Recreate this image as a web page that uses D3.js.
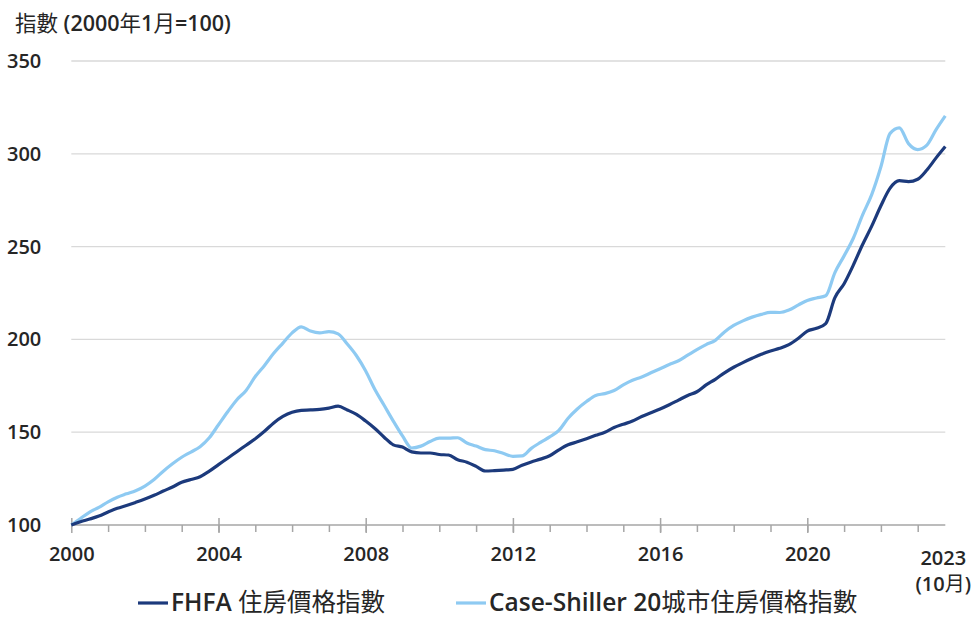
<!DOCTYPE html>
<html>
<head>
<meta charset="utf-8">
<script src="https://cdn.jsdelivr.net/npm/d3@7"></script>
<style>
  body { margin: 0; background: #fff; }
  svg text { font-family: "Open Sans", "Noto Sans CJK TC", sans-serif; fill: #262626; font-weight: 600; }
</style>
</head>
<body>
<svg></svg>
<script>
// quarterly readings, Jan 2000 .. Oct 2023 (2000-01 = 100)
let quarters = d3.range(0, 96).map((i) => 2000 + i / 4)

let fhfa = [
  100, 101.8, 103.2, 104.8, 107, 109, 110.5, 112.2,
  114, 116, 118.3, 120.5, 123, 124.5, 126, 129,
  132.5, 136, 139.5, 143, 146.5, 150.5, 155, 158.5,
  160.8, 161.8, 162, 162.3, 163, 164, 162, 159.6,
  156, 152, 147.3, 143.2, 142, 139.4, 138.8, 138.8,
  138, 137.7, 135.2, 133.8, 131.6, 129.1, 129.3, 129.6,
  130, 132.2, 134, 135.5, 137.3, 140.5, 143.2, 144.8,
  146.5, 148.3, 150, 152.5, 154.3, 156, 158.5, 160.5,
  162.5, 164.8, 167.3, 169.8, 171.8, 175.5, 178.5, 182,
  185, 187.5, 189.8, 192, 193.8, 195.2, 197.2, 200.5,
  204.5, 206, 208.5, 222.5, 230, 240, 251, 261,
  272, 281.5, 285.5, 285, 286.3, 291.3, 297.8, 303.9
]

let caseShiller = [
  100, 103.5, 107, 109.5, 112.5, 115, 116.8, 118.5,
  121, 124.5, 129, 133, 136.5, 139.3, 142.2, 147,
  154, 161, 167.5, 172.5, 180, 186, 192.5, 198,
  203.5, 206.8, 204.5, 203.5, 204.2, 203, 197.5, 191.2,
  183, 173, 164.5, 156, 148, 141.5, 142.5, 145,
  146.8, 146.8, 147, 144.2, 142.5, 140.6, 140, 138.5,
  137, 137.2, 141.3, 144.5, 147.5, 151, 157.5, 162.5,
  166.5, 169.8, 170.8, 172.5, 175.5, 178, 179.7, 182,
  184.2, 186.5, 188.5, 191.5, 194.5, 197.2, 199.5, 204,
  207.5, 210, 212, 213.5, 214.6, 214.5, 215.8, 218.5,
  221, 222.3, 223.5, 236, 245, 254.5, 267, 278,
  293, 311, 314, 305.5, 302.3, 304.7, 313, 320.4
]

let yTicks = [100, 150, 200, 250, 300, 350]
let xMajor = [2000, 2004, 2008, 2012, 2016, 2020]
let xMinor = d3.range(2001, 2024)
let endLabel = ['2023', '(10月)']
let seriesNames = ['FHFA 住房價格指數', 'Case-Shiller 20城市住房價格指數']
let colors = ['#1c3a7c', '#8ecaf2']

let width = 975
let height = 619

let svg = d3.select('svg')
    .attr('width', width)
    .attr('height', height)

let xScale = d3.scaleLinear()
    .domain([2000, 2023.75])
    .range([71.3, 945.3])

let yScale = d3.scaleLinear()
    .domain([100, 350])
    .range([525, 61])

// latin runs semibold, CJK runs regular
let cjk = /[\u3000-\u9fff\uff00-\uffef]/
let mixedText = (sel, str) => {
    let runs = str.match(/[\u3000-\u9fff\uff00-\uffef]+|[^\u3000-\u9fff\uff00-\uffef]+/g)
    runs.forEach((r) => {
        sel.append('tspan')
           .attr('font-weight', cjk.test(r) ? 400 : 600)
           .text(r)
    })
}

// gridlines
svg.append('g')
   .selectAll('line')
   .data(yTicks.slice(1))
   .enter()
   .append('line')
   .attr('x1', xScale(2000))
   .attr('x2', xScale(2023.75))
   .attr('y1', (d) => yScale(d))
   .attr('y2', (d) => yScale(d))
   .attr('stroke', '#d9d9d9')
   .attr('stroke-width', 1.3)

// y labels
svg.append('g')
   .selectAll('text')
   .data(yTicks)
   .enter()
   .append('text')
   .attr('x', 7)
   .attr('y', (d) => yScale(d))
   .attr('dy', '0.35em')
   .attr('font-size', 20)
   .text((d) => d)

svg.append('text')
   .attr('x', 15)
   .attr('y', 31)
   .attr('font-size', 21.5)
   .call(mixedText, '指數 (2000年1月=100)')

// x axis: minor ticks
let minorAxis = d3.axisBottom(xScale)
    .tickValues(xMinor)
    .tickSize(7)
    .tickFormat('')
svg.append('g')
   .attr('class', 'minor')
   .attr('transform', 'translate(0,' + yScale(100) + ')')
   .call(minorAxis)
   .call((g) => g.select('.domain').remove())

let xAxis = d3.axisBottom(xScale)
    .tickValues(xMajor)
    .tickSize(15)
    .tickSizeOuter(0)
    .tickPadding(14)
    .tickFormat(d3.format('d'))
svg.append('g')
   .attr('id', 'x-axis')
   .attr('transform', 'translate(0,' + (yScale(100) - 7) + ')')
   .call(xAxis)
   .call((g) => g.select('.domain').remove())
   .call((g) => g.selectAll('text').attr('font-size', 20).attr('fill', '#262626'))

svg.append('line')
   .attr('x1', xScale(2000))
   .attr('x2', xScale(2023.75))
   .attr('y1', yScale(100))
   .attr('y2', yScale(100))
   .attr('stroke', '#a6a6a6')
   .attr('stroke-width', 1.5)

svg.selectAll('.tick line')
   .attr('stroke', '#a6a6a6')
   .attr('stroke-width', 1.5)

let endText = svg.append('text')
   .attr('text-anchor', 'middle')
   .attr('font-size', 20)
endText.append('tspan')
   .attr('x', xScale(2023.75) - 2)
   .attr('y', 565)
   .text(endLabel[0])
endText.append('tspan')
   .attr('x', xScale(2023.75) - 2)
   .attr('y', 591)
   .call(mixedText, endLabel[1])

// lines
let line = d3.line()
    .x((d) => xScale(d[0]))
    .y((d) => yScale(d[1]))
    .curve(d3.curveMonotoneX)

let series = [fhfa, caseShiller]
// draw light series first so the dark one sits on top
;[1, 0].forEach((k) => {
    svg.append('path')
       .datum(quarters.map((q, i) => [q, series[k][i]]))
       .attr('fill', 'none')
       .attr('stroke', colors[k])
       .attr('stroke-width', 3.2)
       .attr('stroke-linejoin', 'round')
       .attr('d', line)
})

// legend
let legendX = [138, 456]
let legend = svg.append('g')
legend.selectAll('line')
      .data(seriesNames)
      .enter()
      .append('line')
      .attr('x1', (d, i) => legendX[i])
      .attr('x2', (d, i) => legendX[i] + 30)
      .attr('y1', 603)
      .attr('y2', 603)
      .attr('stroke', (d, i) => colors[i])
      .attr('stroke-width', 3.2)
legend.selectAll('text')
      .data(seriesNames)
      .enter()
      .append('text')
      .attr('x', (d, i) => legendX[i] + 33)
      .attr('y', 602)
      .attr('dy', '0.36em')
      .attr('font-size', 24.5)
      .each(function (d) { d3.select(this).call(mixedText, d) })
</script>
</body>
</html>
